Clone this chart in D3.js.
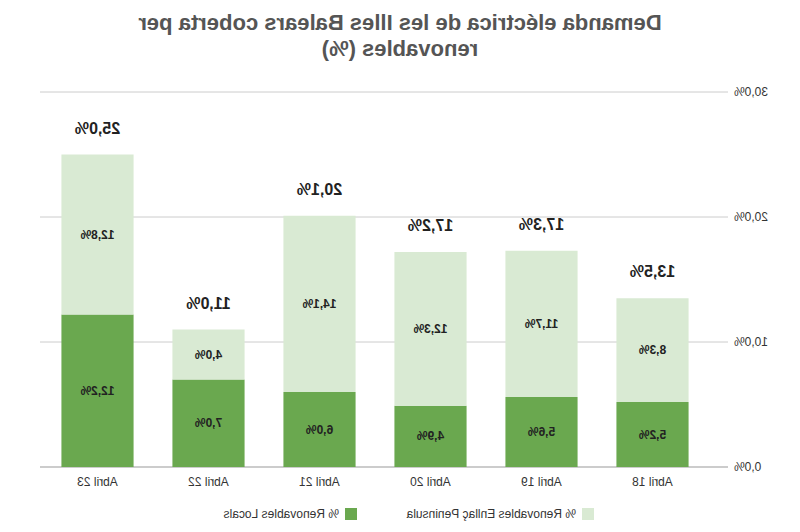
<!DOCTYPE html>
<html><head><meta charset="utf-8">
<script src="https://cdn.jsdelivr.net/npm/d3@7"></script>
<style>body{margin:0;background:#fff}</style></head>
<body><svg id="c" width="800" height="532"></svg>
<script>
const categories=["Abril 18","Abril 19","Abril 20","Abril 21","Abril 22","Abril 23"];
const locals=[5.2,5.6,4.9,6.0,7.0,12.2];
const enllac=[8.3,11.7,12.3,14.1,4.0,12.8];
const totals=[13.5,17.3,17.2,20.1,11.0,25.0];
const yTicks=[0,10,20,30];
const fmt=v=>v.toFixed(1).replace(".",",")+"%";
const svg=d3.select("#c");
// reference is mirrored horizontally
const g=svg.append("g").attr("transform","translate(800,0) scale(-1,1)");
const x=d3.scaleBand().domain(categories).range([92,758]).paddingInner(0.35).paddingOuter(0.175);
const y=d3.scaleLinear().domain([0,30]).range([467,92]);
const F="Liberation Sans, Arial, sans-serif";
g.selectAll(".grid").data(yTicks).enter().append("line")
 .attr("x1",72).attr("x2",760).attr("y1",d=>y(d)).attr("y2",d=>y(d))
 .attr("stroke",d=>d===0?"#999":"#ccc").attr("stroke-width",1);
g.selectAll(".yl").data(yTicks).enter().append("text")
 .attr("x",66).attr("y",d=>y(d)+4).attr("text-anchor","end")
 .attr("font-family",F).attr("font-size",12).attr("fill","#333").text(d=>fmt(d));
categories.forEach((c,i)=>{
  const bx=x(c),bw=x.bandwidth();
  g.append("rect").attr("x",bx).attr("width",bw).attr("y",y(locals[i])).attr("height",y(0)-y(locals[i])).attr("fill","#6aa84f");
  g.append("rect").attr("x",bx).attr("width",bw).attr("y",y(locals[i]+enllac[i])).attr("height",y(locals[i])-y(locals[i]+enllac[i])).attr("fill","#d9ead3");
  const cx=bx+bw/2;
  g.append("text").attr("x",cx).attr("y",y(locals[i]/2)+4).attr("text-anchor","middle").attr("font-family",F).attr("font-size",12).attr("font-weight","bold").attr("fill","#222").text(fmt(locals[i]));
  g.append("text").attr("x",cx).attr("y",y(locals[i]+enllac[i]/2)+4).attr("text-anchor","middle").attr("font-family",F).attr("font-size",12).attr("font-weight","bold").attr("fill","#222").text(fmt(enllac[i]));
  g.append("text").attr("x",cx).attr("y",y(totals[i])-21).attr("text-anchor","middle").attr("font-family",F).attr("font-size",16).attr("font-weight","bold").attr("fill","#222").text(fmt(totals[i]));
  g.append("text").attr("x",cx).attr("y",486).attr("text-anchor","middle").attr("font-family",F).attr("font-size",12).attr("fill","#333").text(c);
});
const leg=[["% Renovables Locals","#6aa84f",443],["% Renovables Enllaç Peninsula","#d9ead3",206]];
leg.forEach(([t,col,lx])=>{
  g.append("rect").attr("x",lx).attr("y",508).attr("width",12).attr("height",12).attr("fill",col);
  g.append("text").attr("x",lx+18).attr("y",518).attr("font-family",F).attr("font-size",12).attr("fill","#333").text(t);
});
["Demanda eléctrica de les Illes Balears coberta per","renovables (%)"].forEach((t,i)=>{
  g.append("text").attr("x",400).attr("y",30+i*26).attr("text-anchor","middle").attr("font-family",F).attr("font-size",22).attr("font-weight","bold").attr("fill","#555").text(t);
});
</script></body></html>
